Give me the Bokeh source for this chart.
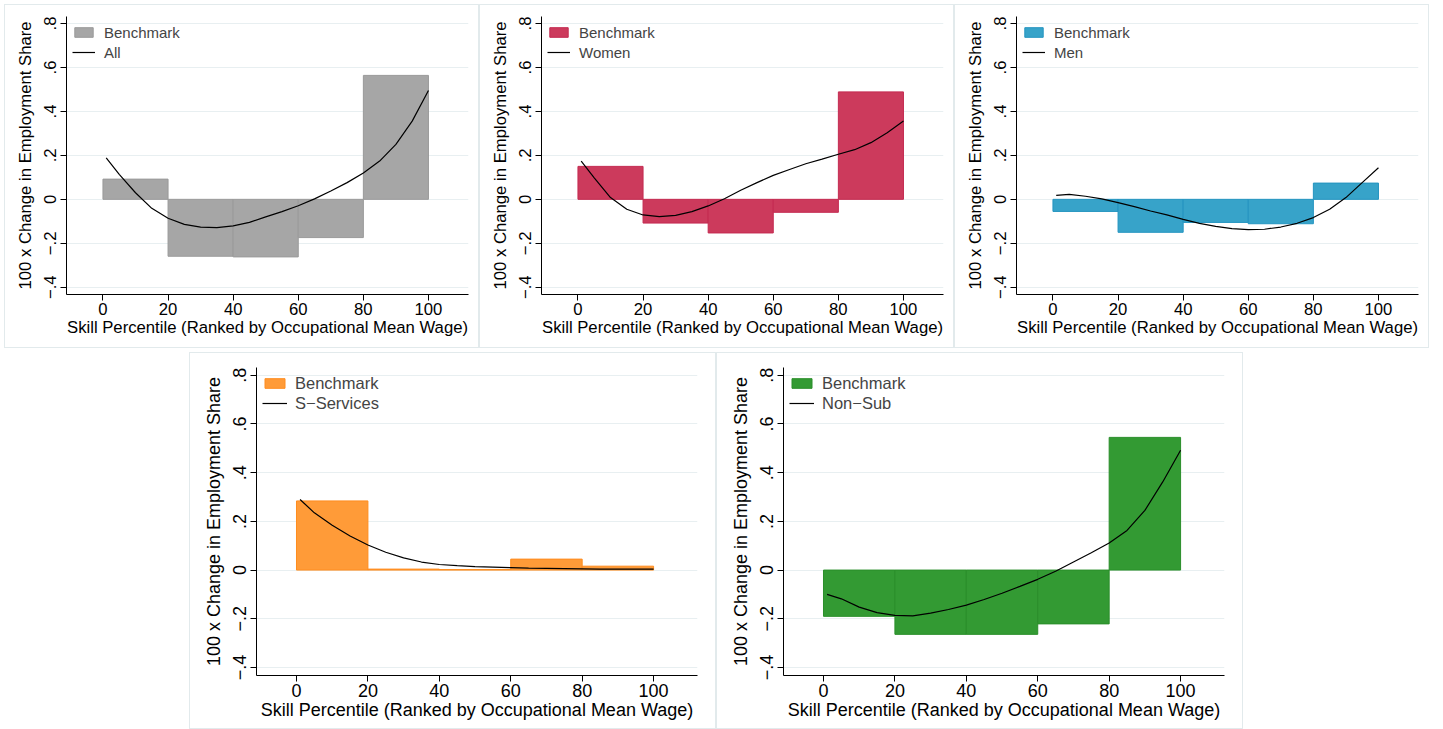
from bokeh.plotting import figure
from bokeh.layouts import column, row, Spacer
from bokeh.models import Range1d, FixedTicker, CustomJSTickFormatter, Legend, LegendItem
from bokeh.embed import file_html
from bokeh.resources import INLINE

# ---------------- data ----------------
bin_left = [0, 20, 40, 60, 80]
bin_right = [20, 40, 60, 80, 100]

bench_all = [0.092, -0.259, -0.262, -0.174, 0.564]
bench_women = [0.150, -0.108, -0.153, -0.059, 0.489]
bench_men = [-0.055, -0.150, -0.105, -0.111, 0.074]
bench_sserv = [0.284, 0.004, 0.002, 0.045, 0.016]
bench_nonsub = [-0.190, -0.264, -0.264, -0.221, 0.545]

curve_x = [1, 5, 10, 15, 20, 25, 30, 35, 40, 45, 50, 55, 60, 65, 70, 75, 80, 85, 90, 95, 100]
line_all = [0.189, 0.114, 0.030, -0.041, -0.086, -0.114, -0.126, -0.129, -0.121, -0.105, -0.080,
            -0.056, -0.029, 0.002, 0.038, 0.076, 0.120, 0.174, 0.250, 0.356, 0.495]
line_women = [0.174, 0.098, 0.008, -0.045, -0.071, -0.079, -0.073, -0.056, -0.030, 0.003, 0.041,
              0.076, 0.109, 0.136, 0.162, 0.183, 0.205, 0.226, 0.258, 0.303, 0.356]
line_men = [0.018, 0.023, 0.014, 0.002, -0.015, -0.033, -0.053, -0.071, -0.091, -0.109, -0.123,
            -0.133, -0.138, -0.136, -0.126, -0.109, -0.083, -0.045, 0.008, 0.076, 0.144]
line_sserv = [0.290, 0.235, 0.184, 0.140, 0.103, 0.073, 0.050, 0.033, 0.023, 0.018, 0.014,
              0.012, 0.010, 0.008, 0.007, 0.006, 0.005, 0.004, 0.004, 0.004, 0.004]
line_nonsub = [-0.100, -0.118, -0.152, -0.175, -0.186, -0.188, -0.177, -0.162, -0.144, -0.121, -0.095,
               -0.067, -0.038, -0.005, 0.033, 0.071, 0.111, 0.163, 0.245, 0.362, 0.492]

x_ticks = [0, 20, 40, 60, 80, 100]
y_ticks = [-0.4, -0.2, 0, 0.2, 0.4, 0.6, 0.8]

x_title = "Skill Percentile (Ranked by Occupational Mean Wage)"
y_title = "100 x Change in Employment Share"
bench_label = "Benchmark"

FONT = "Liberation Sans"
GRID = "#e8eff1"
BORDER = "#e2eaec"

y_fmt = CustomJSTickFormatter(code="""
const v = Math.round(tick * 10) / 10;
if (v === 0) { return "0"; }
const s = Math.abs(v).toFixed(1).replace(/^0/, "");
return (v < 0 ? "\\u2212" : "") + s;
""")


def panel(bench, curve, name, fill, line, w, h, ml, mr, mt, mb, fs, lfs, gw, lso):
    p = figure(width=w, height=h, output_backend="svg", toolbar_location=None,
               x_range=Range1d(-11.2, 112.3), y_range=Range1d(-0.433, 0.832),
               min_border_left=ml, min_border_right=mr, min_border_top=mt, min_border_bottom=mb,
               styles={"border": "1px solid " + BORDER, "box-sizing": "border-box"})
    p.outline_line_color = None
    p.xgrid.grid_line_color = None
    p.ygrid.grid_line_color = GRID
    p.ygrid.grid_line_width = 1
    p.xaxis.ticker = FixedTicker(ticks=x_ticks)
    p.yaxis.ticker = FixedTicker(ticks=y_ticks)
    p.yaxis.formatter = y_fmt
    p.yaxis.major_label_orientation = "vertical"
    for ax in (p.xaxis, p.yaxis):
        ax.axis_line_color = "black"
        ax.axis_line_width = 1
        ax.major_tick_line_color = "black"
        ax.major_tick_out = 6
        ax.major_tick_in = 0
        ax.minor_tick_line_color = None
        ax.major_label_text_font = FONT
        ax.major_label_text_font_size = fs
        ax.major_label_text_color = "black"
        ax.axis_label_text_font = FONT
        ax.axis_label_text_font_size = fs
        ax.axis_label_text_font_style = "normal"
        ax.axis_label_text_color = "black"
    p.xaxis.major_label_standoff = 2
    p.xaxis.axis_label_standoff = 0
    p.yaxis.major_label_standoff = 4
    p.yaxis.axis_label_standoff = 7
    p.xaxis.axis_label = x_title
    p.yaxis.axis_label = y_title

    bars = p.quad(left=bin_left, right=bin_right, top=bench, bottom=0,
                  fill_color=fill, line_color=line, line_width=1)
    crv = p.line(curve_x, curve, line_color="black", line_width=1.2)

    leg = Legend(items=[LegendItem(label=bench_label, renderers=[bars]),
                        LegendItem(label=name, renderers=[crv])],
                 location="top_left", margin=6, padding=8, spacing=0,
                 glyph_width=gw, glyph_height=12, label_height=20, label_standoff=lso,
                 label_text_font=FONT, label_text_font_size=lfs,
                 border_line_color=None, background_fill_alpha=0)
    p.add_layout(leg)
    return p


top_args = dict(w=475, h=344, ml=61, mr=12, mt=11, mb=55, fs="16.7px", lfs="15px", gw=23, lso=9)
bot_args = dict(w=527, h=377, ml=66, mr=20, mt=14, mb=55, fs="18px", lfs="16.5px", gw=25, lso=8)

p1 = panel(bench_all, line_all, "All", "#a6a6a6", "#9a9a9a", **top_args)
p2 = panel(bench_women, line_women, "Women", "#cc3a5c", "#c42a50", **top_args)
p3 = panel(bench_men, line_men, "Men", "#37a3c9", "#2494c0", **top_args)
p4 = panel(bench_sserv, line_sserv, "S\u2212Services", "#ff9b38", "#ff8c1e", **bot_args)
p5 = panel(bench_nonsub, line_nonsub, "Non\u2212Sub", "#339a33", "#2a8e2a", **bot_args)

layout = column(row(p1, p2, p3, spacing=0),
                row(Spacer(width=185, height=10), p4, p5, spacing=0),
                spacing=4, styles={"margin-left": "4px", "margin-top": "4px"})

open("out.html", "w").write(file_html(layout, INLINE))
